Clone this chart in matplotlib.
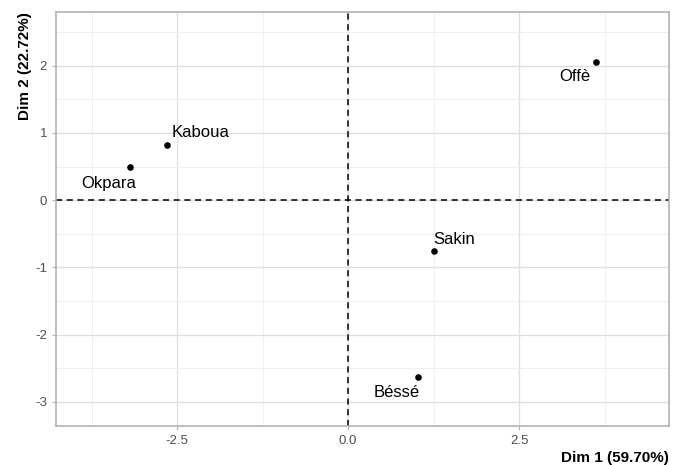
import matplotlib
matplotlib.use("Agg")
import matplotlib.pyplot as plt
from matplotlib.ticker import MultipleLocator

plt.rcParams['font.family'] = ['Liberation Sans', 'DejaVu Sans']
plt.rcParams['axes.unicode_minus'] = False

# individual coordinates on the first two dimensions
names = ["Okpara", "Kaboua", "Offè", "Sakin", "Béssé"]
dim1 = [-3.19, -2.65, 3.62, 1.25, 1.02]
dim2 = [0.49, 0.82, 2.05, -0.75, -2.63]
# label offsets (points) as placed by repel
label_dx = [-15, 24, -15, 15, -15]
label_dy = [-12, 9, -10, 8, -11]

fig = plt.figure(figsize=(6.83, 4.65), dpi=100)
ax = fig.add_axes([56 / 683, 1 - 426 / 465, (669 - 56) / 683, (426 - 12) / 465])

ax.axhline(0, color="black", linestyle=(0, (4, 3)), linewidth=1.1, zorder=2)
ax.axvline(0, color="black", linestyle=(0, (4, 3)), linewidth=1.1, zorder=2)
ax.scatter(dim1, dim2, s=14, color="black", zorder=3)

for n, x, y, dx, dy in zip(names, dim1, dim2, label_dx, label_dy):
    ax.annotate(n, (x, y), xytext=(dx, dy), textcoords="offset points",
                ha="center", va="center", fontsize=12, color="black")

ax.set_xlim(-4.27, 4.69)
ax.set_ylim(-3.36, 2.80)
ax.xaxis.set_minor_locator(MultipleLocator(1.25))
ax.yaxis.set_major_locator(MultipleLocator(1))
ax.yaxis.set_minor_locator(MultipleLocator(0.5))
ax.set_xticks([-2.5, 0.0, 2.5])
ax.set_xticklabels(["-2.5", "0.0", "2.5"])

ax.grid(which="major", color="#dedede", linewidth=0.9, zorder=0)
ax.grid(which="minor", color="#ececec", linewidth=0.6, zorder=0)
ax.set_axisbelow(True)
for s in ax.spines.values():
    s.set_color("#b3b3b3")
    s.set_linewidth(1.2)
ax.tick_params(which="major", colors="#b3b3b3", labelcolor="#4d4d4d", labelsize=9.5, length=3)
ax.tick_params(which="minor", length=0)

ax.set_xlabel("Dim 1 (59.70%)", fontsize=11, fontweight="bold", loc="right", labelpad=3)
ax.set_ylabel("Dim 2 (22.72%)", fontsize=11, fontweight="bold", loc="top", labelpad=2)

fig.savefig("out.png", dpi=100)
